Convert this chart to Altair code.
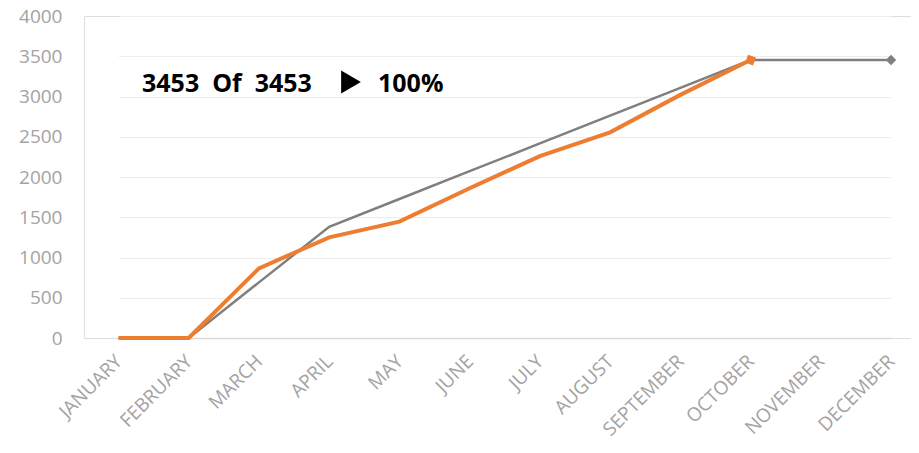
import altair as alt
import pandas as pd

months = ["JANUARY", "FEBRUARY", "MARCH", "APRIL", "MAY", "JUNE", "JULY",
          "AUGUST", "SEPTEMBER", "OCTOBER", "NOVEMBER", "DECEMBER"]
planned = [0, 0, 691, 1381, 1727, 2072, 2417, 2762, 3108, 3453, 3453, 3453]
actual = [0, 0, 865, 1250, 1445, 1860, 2260, 2555, 3020, 3453, None, None]
y_ticks = [0, 500, 1000, 1500, 2000, 2500, 3000, 3500, 4000]
summary_left = "3453\u00a0\u00a0Of\u00a0\u00a03453"
summary_right = "100%"

plan_df = pd.DataFrame({"month": months, "value": planned})
act_df = pd.DataFrame({"month": months, "value": actual}).dropna()

FONT = "Open Sans"
LABEL_COLOR = "#a3a3a3"

x_enc = alt.X(
    "month:N",
    sort=months,
    scale=alt.Scale(type="point", range=[34.5, 807], padding=0),
    axis=alt.Axis(
        title=None, labelAngle=-45, labelAlign="right", labelBaseline="middle",
        labelPadding=20, labelFontSize=19, labelFont=FONT, labelColor=LABEL_COLOR,
        ticks=False, domainColor="#d9d9d9", domainWidth=1.5, grid=False,
        labelOverlap=False,
    ),
)
y_enc = alt.Y(
    "value:Q",
    scale=alt.Scale(domain=[0, 4000], nice=False),
    axis=alt.Axis(
        title=None, values=y_ticks, format="d", labelFontSize=19, labelFont=FONT,
        labelColor=LABEL_COLOR, ticks=False, domain=False, labelPadding=22,
        gridColor="#ececec", gridWidth=1.2,
    ),
)

plan_line = alt.Chart(plan_df).mark_line(color="#7f7f7f", strokeWidth=2.5).encode(x=x_enc, y=y_enc)
plan_end = alt.Chart(plan_df.tail(1)).mark_point(
    shape="diamond", filled=True, color="#7f7f7f", size=110, opacity=1
).encode(x=x_enc, y=y_enc)
act_line = alt.Chart(act_df).mark_line(color="#ed7d31", strokeWidth=4).encode(x=x_enc, y=y_enc)
act_end = alt.Chart(act_df.tail(1)).mark_point(
    shape="square", filled=True, color="#ed7d31", size=70, opacity=1, angle=20
).encode(x=x_enc, y=y_enc)

txt1 = alt.Chart(pd.DataFrame({"t": [summary_left]})).mark_text(
    font=FONT, fontWeight="bold", fontSize=25, color="#000000", align="left", baseline="alphabetic"
).encode(x=alt.value(58), y=alt.value(76), text="t:N")
tri = alt.Chart(pd.DataFrame({"t": [1]})).mark_point(
    shape="triangle-right", filled=True, color="#000000", size=520, opacity=1
).encode(x=alt.value(267), y=alt.value(66))
txt2 = alt.Chart(pd.DataFrame({"t": [summary_right]})).mark_text(
    font=FONT, fontWeight="bold", fontSize=25, color="#000000", align="left", baseline="alphabetic"
).encode(x=alt.value(294), y=alt.value(76), text="t:N")

chart = alt.layer(plan_line, act_line, plan_end, act_end, txt1, tri, txt2).properties(
    width=827, height=322,
    autosize=alt.AutoSizeParams(type="none"),
    padding={"left": 76, "top": 8, "right": 0, "bottom": 107},
).configure_view(stroke=None).configure(background="white")

chart.save("out.html", embed_options={"renderer": "svg", "actions": False})
